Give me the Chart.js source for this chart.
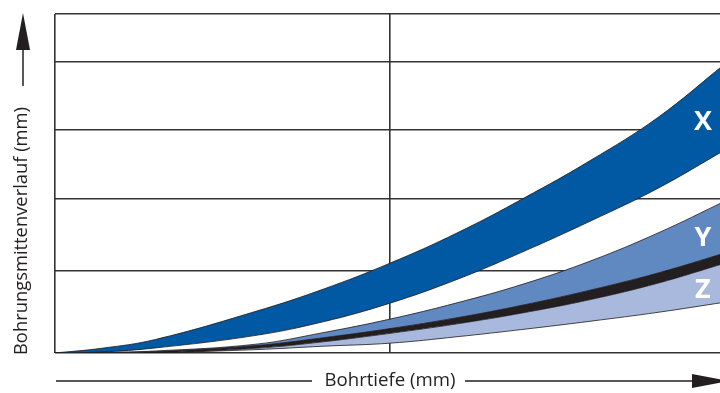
<!DOCTYPE html>
<html lang="de">
<head>
<meta charset="utf-8">
<title>Bohrungsmittenverlauf</title>
<script src="https://cdn.jsdelivr.net/npm/chart.js@4/dist/chart.umd.min.js"></script>
<style>
html,body{margin:0;padding:0;background:#fff;overflow:hidden;}
#wrap{position:relative;width:740px;height:393px;}
</style>
</head>
<body>
<div id="wrap"><canvas id="driftChart"></canvas></div>
<script>
/* ===============================
        Data
================================ */

// Bohrtiefe (relativ, 0..100)
const depth = [0, 7, 15, 30, 40, 50, 60, 70, 80, 90, 100];

// Band X (oben / unten)
const xUpper = [0, 1.4, 4.0, 12.3, 18.8, 26.5, 35.4, 45.7, 56.9, 69.5, 85.3];
const xLower = [0, 0.3, 1.5, 5.2, 9.2, 14.7, 21.7, 30.0, 39.0, 48.6, 59.9];

// Band Y (oben) und schwarze Trennlinie
const yUpper = [0, 0.2, 0.6, 2.6, 6.0, 10.0, 14.8, 20.4, 27.2, 35.4, 44.8];
const lineUpper = [0, 0.1, 0.4, 2.2, 4.5, 7.2, 10.4, 14.2, 18.6, 23.6, 29.5];
const lineLower = [0, 0.05, 0.1, 1.4, 3.3, 5.8, 8.6, 11.9, 15.8, 20.6, 26.5];

// Band Z (unten)
const zLower = [0, 0, 0.1, 1.0, 2.0, 2.9, 4.8, 7.0, 9.4, 12.0, 15.0];

// Gitterlinien
const depthGrid = [0, 50, 100];
const driftGrid = [0, 24.2, 45.4, 65.8, 85.8, 100];

const bandNames = ["X", "Y", "Z"];


/* ===============================
        Helpers
================================ */

const toPoints = (ys) => depth.map((d, i) => ({ x: d, y: ys[i] }));

const curve = (ys, extra) => Object.assign({
  data: toPoints(ys),
  borderColor: "#1e1b1c",
  borderWidth: 0.8,
  pointRadius: 0,
  tension: 0.4,
  fill: false
}, extra);


/* ===============================
        Band labels + axis titles
================================ */

const bandLabels = {
  id: "bandLabels",
  afterDatasetsDraw(chart){
    const ctx = chart.ctx;
    const sx = chart.scales.x;
    const sy = chart.scales.y;
    const spots = [[96.7, 68.4], [96.7, 34.2], [96.7, 18.9]];
    ctx.save();
    ctx.fillStyle = "#fff";
    ctx.font = 'bold 27px "Open Sans"';
    ctx.textAlign = "center";
    ctx.textBaseline = "middle";
    bandNames.forEach((name, i) => {
      ctx.fillText(name, sx.getPixelForValue(spots[i][0]), sy.getPixelForValue(spots[i][1]) + 1);
    });
    ctx.restore();
  }
};

function fitText(ctx, text, x, y, width){
  const w = ctx.measureText(text).width;
  ctx.save();
  ctx.translate(x, y);
  ctx.scale(width / w, 1);
  ctx.fillText(text, 0, 0);
  ctx.restore();
}

const axisTitles = {
  id: "axisTitles",
  afterDraw(chart){
    const ctx = chart.ctx;
    const area = chart.chartArea;
    const mid = chart.scales.x.getPixelForValue(50);
    ctx.save();
    ctx.fillStyle = "#231f20";
    ctx.strokeStyle = "#231f20";
    ctx.lineWidth = 1.5;
    ctx.font = '18px "Open Sans"';
    ctx.textAlign = "center";
    ctx.textBaseline = "middle";

    // x-Achse: Bohrtiefe
    const ty = 381;
    fitText(ctx, "Bohrtiefe (mm)", mid, ty, 131);
    ctx.beginPath();
    ctx.moveTo(area.left + 1, ty);
    ctx.lineTo(mid - 78, ty);
    ctx.moveTo(mid + 75, ty);
    ctx.lineTo(696, ty);
    ctx.stroke();
    ctx.beginPath();
    ctx.moveTo(692, ty - 7);
    ctx.lineTo(729, ty);
    ctx.lineTo(692, ty + 7);
    ctx.closePath();
    ctx.fill();

    // y-Achse: Bohrungsmittenverlauf
    const tx = 22;
    ctx.save();
    ctx.translate(tx, 231);
    ctx.rotate(-Math.PI / 2);
    fitText(ctx, "Bohrungsmittenverlauf (mm)", 0, 0, 248);
    ctx.restore();
    ctx.beginPath();
    ctx.moveTo(tx + 1, 86);
    ctx.lineTo(tx + 1, 48);
    ctx.stroke();
    ctx.beginPath();
    ctx.moveTo(tx - 6, 50);
    ctx.lineTo(tx + 1, 13);
    ctx.lineTo(tx + 8, 50);
    ctx.closePath();
    ctx.fill();
    ctx.restore();
  }
};


/* ===============================
        Chart
================================ */

new Chart(document.getElementById("driftChart"), {
  type: "line",
  data: {
    datasets: [
      curve(xLower),
      curve(xUpper, { fill: "-1", backgroundColor: "#0059a2" }),
      curve(zLower),
      curve(lineLower, { fill: "-1", backgroundColor: "#a9b9dd" }),
      curve(lineUpper, { fill: "-1", backgroundColor: "#231f20" }),
      curve(yUpper, { fill: "-1", backgroundColor: "#6089c1" })
    ]
  },
  options: {
    responsive: true,
    maintainAspectRatio: false,
    animation: false,
    layout: { padding: { left: 55, top: 14, right: 15, bottom: 40 } },
    plugins: {
      legend: { display: false },
      tooltip: { enabled: false }
    },
    scales: {
      x: {
        type: "linear",
        min: 0,
        max: 100,
        afterBuildTicks: (s) => { s.ticks = depthGrid.map((v) => ({ value: v })); },
        ticks: { display: false },
        grid: { color: "#333", lineWidth: 1.6, drawTicks: false },
        border: { display: false }
      },
      y: {
        min: 0,
        max: 100,
        afterBuildTicks: (s) => { s.ticks = driftGrid.map((v) => ({ value: v })); },
        ticks: { display: false },
        grid: { color: "#333", lineWidth: 1.6, drawTicks: false },
        border: { display: false }
      }
    }
  },
  plugins: [bandLabels, axisTitles]
});
</script>
</body>
</html>
